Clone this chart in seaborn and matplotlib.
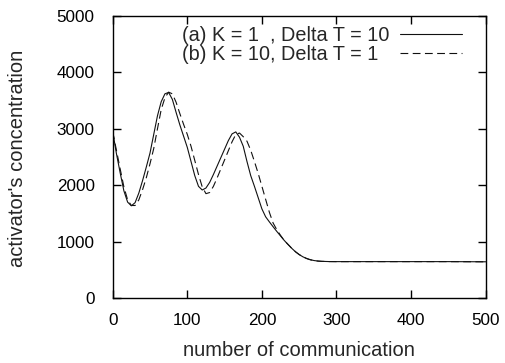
import matplotlib
matplotlib.use("Agg")
import matplotlib.pyplot as plt
import seaborn as sns
import pandas as pd

sns.set_style("ticks")
plt.rcParams['font.family'] = ['Liberation Sans', 'DejaVu Sans']

x_vals = [0, 5, 10, 15, 20, 25, 30, 35, 40, 45, 50, 55, 60, 65, 70, 75, 80, 85, 90, 95,
          100, 105, 110, 115, 120, 125, 130, 135, 140, 145, 150, 155, 160, 165, 170, 175,
          180, 185, 190, 195, 200, 205, 210, 215, 220, 225, 230, 235, 240, 245, 250, 255,
          260, 265, 270, 275, 280, 290, 300, 350, 400, 450, 500]

series_a = [2950, 2560, 2220, 1900, 1700, 1635, 1690, 1860, 2080, 2320, 2570, 2900, 3230, 3480, 3620, 3645, 3520, 3290, 3070, 2870,
            2670, 2420, 2170, 1980, 1915, 1950, 2050, 2190, 2340, 2490, 2640, 2790, 2910, 2945, 2850, 2690,
            2420, 2170, 1980, 1780, 1580, 1440, 1350, 1264, 1180, 1100, 1020, 950, 881, 820, 770, 730,
            700, 678, 664, 655, 650, 646, 645, 645, 645, 645, 642]

series_b = [2950, 2620, 2290, 1970, 1740, 1640, 1640, 1740, 1920, 2130, 2380, 2650, 3000, 3340, 3550, 3650, 3620, 3470, 3270, 3080,
            2900, 2690, 2440, 2190, 1970, 1850, 1870, 1980, 2130, 2290, 2450, 2610, 2770, 2900, 2925, 2860,
            2780, 2620, 2420, 2210, 1980, 1750, 1520, 1330, 1210, 1110, 1020, 950, 881, 820, 770, 730,
            700, 678, 664, 655, 650, 646, 645, 645, 645, 645, 642]

label_a = "(a) K = 1  , Delta T = 10"
label_b = "(b) K = 10, Delta T = 1"

x_ticks = [0, 100, 200, 300, 400, 500]
y_ticks = [0, 1000, 2000, 3000, 4000, 5000]

df = pd.DataFrame({
    "x": x_vals + x_vals,
    "y": series_a + series_b,
    "series": [label_a] * len(x_vals) + [label_b] * len(x_vals),
})

fig = plt.figure(figsize=(5.06, 3.63), dpi=100)
ax = fig.add_axes([112.7 / 506, 1 - 298 / 363, 373 / 506, 282 / 363])

sns.lineplot(data=df, x="x", y="y", style="series",
             dashes={label_a: "", label_b: (7, 4)},
             color="#111111", linewidth=0.8, ax=ax, legend=False)

lines = ax.get_lines()
# pad the shorter label so that both texts start at the same x (gnuplot style)
ax.legend(lines[:2], [label_a, label_b + "  "], loc="upper right", frameon=False,
          markerfirst=False, fontsize=14.3, handlelength=3.1, handletextpad=0.55,
          labelspacing=0.0, borderaxespad=0.0, borderpad=0.0,
          bbox_to_anchor=((462 - 112.7) / 373, (298 - 26) / 282))

ax.set_xlim(0, 500)
ax.set_ylim(0, 5000)
ax.set_xticks(x_ticks)
ax.set_yticks(y_ticks)
ax.tick_params(direction="in", length=6, width=1, top=True, right=True,
               labelsize=12.3, colors="black")
ax.tick_params(axis="x", pad=11)
ax.tick_params(axis="y", pad=13)
for s in ax.spines.values():
    s.set_linewidth(1.0)
    s.set_color("black")

ax.set_xlabel("number of communication", fontsize=14.5)
ax.set_ylabel("activator's concentration", fontsize=14.5)
ax.xaxis.set_label_coords(0.5, (298 - 341) / 282)
ax.yaxis.set_label_coords((27 - 112.7) / 373, (298 - 158) / 282)

fig.savefig("out.png", dpi=100)
